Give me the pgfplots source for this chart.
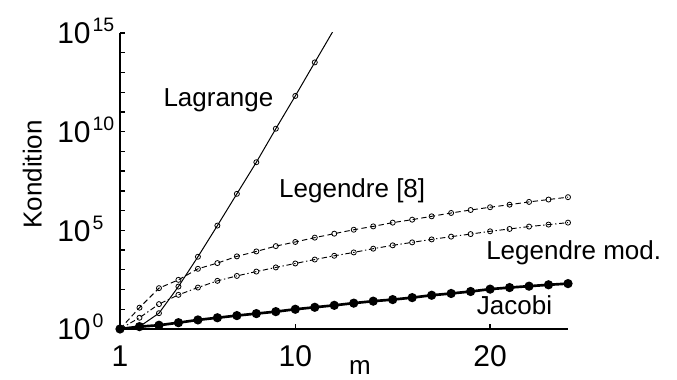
\documentclass[border=0pt]{standalone}
\usepackage{fontspec}
\setmainfont{Liberation Sans}
\usepackage{pgfplots}
\pgfplotsset{compat=1.18}
\newcommand{\tp}[1]{10\hspace{1.5pt}\raisebox{9pt}{\fontsize{14.6pt}{15pt}\selectfont #1}}
\begin{document}
\begin{tikzpicture}
\begin{axis}[
 scale only axis, width=336pt, height=222pt,
 xmin=1, xmax=24, ymin=0, ymax=15,
 axis x line*=bottom, axis y line*=left,
 axis line style={line width=1.2pt},
 xtick={1,10,20}, xticklabels={1,10,20},
 ytick={0,1,2,3,4,5,6,7,8,9,10,11,12,13,14,15},
 yticklabels={\tp{0},,,,,\tp{5},,,,,\tp{10},,,,,\tp{15}},
 tick align=inside, major tick length=3.5pt,
 tick style={line width=1pt, black},
 tick label style={font=\fontsize{22.5pt}{24pt}\selectfont, inner sep=0pt},
 xticklabel style={anchor=base, yshift=-28pt},
 yticklabel style={anchor=base west, xshift=-47.25pt, yshift=-8.1pt},
 xlabel={m}, ylabel={Kondition},
 label style={font=\fontsize{19.5pt}{21pt}\selectfont, inner sep=0pt},
 xlabel style={at={(axis description cs:0.5357,0)}, anchor=base, yshift=-34.5pt},
 ylabel style={at={([xshift=-58.7pt]axis description cs:0,0.522)}, anchor=base},
 clip=true,
]
% Lagrange
\addplot[black, line width=0.75pt, mark=o, mark size=1.9pt, mark options={solid, line width=0.6pt}, mark indices={1,2,3,4,5,6,7,8,9,10,11}] coordinates {
(1,0) (2,0.12) (3,0.8) (4,2.15) (5,3.66) (6,5.24) (7,6.85) (8,8.45) (9,10.15) (10,11.81) (11,13.51) (12,15.2)};
% Legendre [8]
\addplot[black, line width=0.7pt, dash pattern=on 4pt off 2.5pt, mark=o, mark size=1.9pt, mark options={solid, line width=0.6pt}] coordinates {
(1,0) (2,1.08) (3,2.07) (4,2.49) (5,3.05) (6,3.34) (7,3.68) (8,3.93) (9,4.2) (10,4.41) (11,4.63) (12,4.83) (13,5.03) (14,5.2) (15,5.39) (16,5.54) (17,5.71) (18,5.88) (19,6.03) (20,6.17) (21,6.3) (22,6.44) (23,6.56) (24,6.68)};
% Legendre mod.
\addplot[black, line width=0.7pt, dash pattern=on 4pt off 2pt on 1pt off 2pt, mark=o, mark size=1.9pt, mark options={solid, line width=0.6pt}] coordinates {
(1,0) (2,0.57) (3,1.26) (4,1.73) (5,2.1) (6,2.44) (7,2.69) (8,2.91) (9,3.12) (10,3.32) (11,3.52) (12,3.71) (13,3.88) (14,4.07) (15,4.24) (16,4.39) (17,4.54) (18,4.68) (19,4.81) (20,4.95) (21,5.07) (22,5.19) (23,5.29) (24,5.39)};
% Jacobi
\addplot[black, line width=2pt, mark=*, mark size=2.4pt, mark options={solid}] coordinates {
(1,0) (2,0.12) (3,0.19) (4,0.32) (5,0.46) (6,0.57) (7,0.68) (8,0.78) (9,0.88) (10,1.0) (11,1.1) (12,1.2) (13,1.31) (14,1.41) (15,1.49) (16,1.59) (17,1.71) (18,1.8) (19,1.9) (20,2.02) (21,2.1) (22,2.17) (23,2.24) (24,2.3)};
\coordinate (lag) at (axis cs:3.22,11.25);
\coordinate (leg) at (axis cs:9.16,6.65);
\coordinate (lmod) at (axis cs:19.79,3.54);
\coordinate (jac) at (axis cs:19.31,0.75);
\coordinate (sw) at (rel axis cs:0,0);
\coordinate (ne) at (rel axis cs:1,1);
\end{axis}
\begin{scope}[every node/.style={anchor=base west, inner sep=0pt, font=\fontsize{19.5pt}{21pt}\selectfont}]
\node at (lag) {Lagrange};
\node at (leg) {Legendre [8]};
\node at (lmod) {Legendre mod.};
\node at (jac) {Jacobi};
\end{scope}
\pgfresetboundingbox
\useasboundingbox ([shift={(-90pt,-38.25pt)}]sw) rectangle ([shift={(81.75pt,24.75pt)}]ne);
\end{tikzpicture}
\end{document}
